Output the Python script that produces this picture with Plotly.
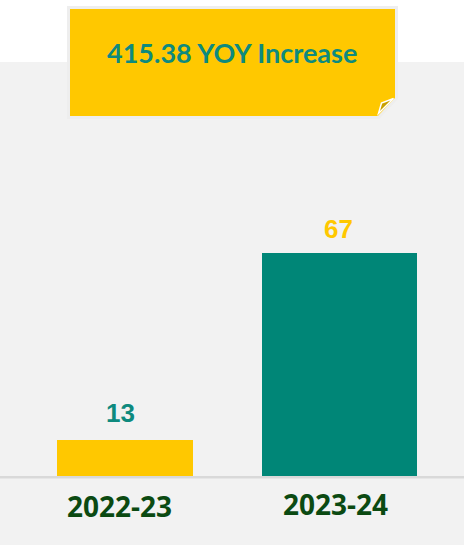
import plotly.graph_objects as go

# Chart data
periods = ["2022-23", "2023-24"]
counts = [13, 67]
yoy_change = 415.38

bar_colors = ["#FFC800", "#008677"]
label_colors = ["#0E8A7E", "#FFC800"]
bar_widths = [0.634, 0.723]

W, H = 464, 545


def px(x):
    return x / W


def py(y):
    return (H - y) / H


fig = go.Figure()

fig.add_trace(go.Bar(
    x=list(range(len(periods))),
    y=counts,
    width=bar_widths,
    marker=dict(color=bar_colors, line=dict(width=0)),
    hoverinfo="skip",
))

# Value labels above each bar
label_shifts = [27, 24]
label_xshift = [-5, -1]
for i, (v, c) in enumerate(zip(counts, label_colors)):
    fig.add_annotation(
        x=i, y=v, xref="x", yref="y", text=str(v), showarrow=False,
        yanchor="middle", yshift=label_shifts[i], xshift=label_xshift[i],
        font=dict(family="Liberation Sans", size=26, color=c, weight="bold"),
    )

# Category labels below the baseline
cat_y = [506, 504]
cat_x = [119.5, 335]
for i, p in enumerate(periods):
    fig.add_annotation(
        x=px(cat_x[i]), y=py(cat_y[i]), xref="paper", yref="paper", text=p,
        showarrow=False, xanchor="center", yanchor="middle",
        font=dict(family="Open Sans", size=28, color="#0B4A12", weight="bold"),
    )

shapes = []
# Grey panel behind the chart
shapes.append(dict(type="rect", xref="paper", yref="paper",
                   x0=0, x1=1, y0=0, y1=py(62),
                   fillcolor="#F2F2F2", line=dict(width=0), layer="below"))
# Baseline
shapes.append(dict(type="line", xref="paper", yref="paper",
                   x0=0, x1=1, y0=py(477.3), y1=py(477.3),
                   line=dict(color="#D9D9D9", width=2.5), layer="above"))


def poly(points):
    return "M " + " L ".join(f"{px(x):.5f},{py(y):.5f}" for x, y in points) + " Z"


# Callout note with a folded corner
shapes.append(dict(type="path", xref="paper", yref="paper",
                   path=poly([(68.5, 7.5), (396.5, 7.5), (396.5, 98.5),
                              (378.5, 117.5), (68.5, 117.5)]),
                   fillcolor="#FFC800", line=dict(color="#EEEEEE", width=3),
                   layer="above"))
shapes.append(dict(type="path", xref="paper", yref="paper",
                   path=poly([(393.5, 98.5), (378.5, 113.5), (381.5, 103)]),
                   fillcolor="#C9A100", line=dict(color="#FFFFFF", width=1.5),
                   layer="above"))

fig.add_annotation(
    x=px(232), y=py(53), xref="paper", yref="paper",
    text=f"{yoy_change:.2f} YOY Increase", showarrow=False,
    xanchor="center", yanchor="middle",
    font=dict(family="Lato", size=27, color="#0E8A7E", weight="bold"),
)

fig.update_layout(
    width=W, height=H,
    margin=dict(l=0, r=0, t=0, b=0),
    paper_bgcolor="#FFFFFF",
    plot_bgcolor="rgba(0,0,0,0)",
    showlegend=False,
    shapes=shapes,
    bargap=0,
    xaxis=dict(domain=[px(17.75), px(446.75)], range=[-0.5, 1.5],
               visible=False, fixedrange=True),
    yaxis=dict(domain=[py(477.5), py(62)], range=[2.3, 122.3],
               visible=False, fixedrange=True),
)

fig.write_html("out.html")
